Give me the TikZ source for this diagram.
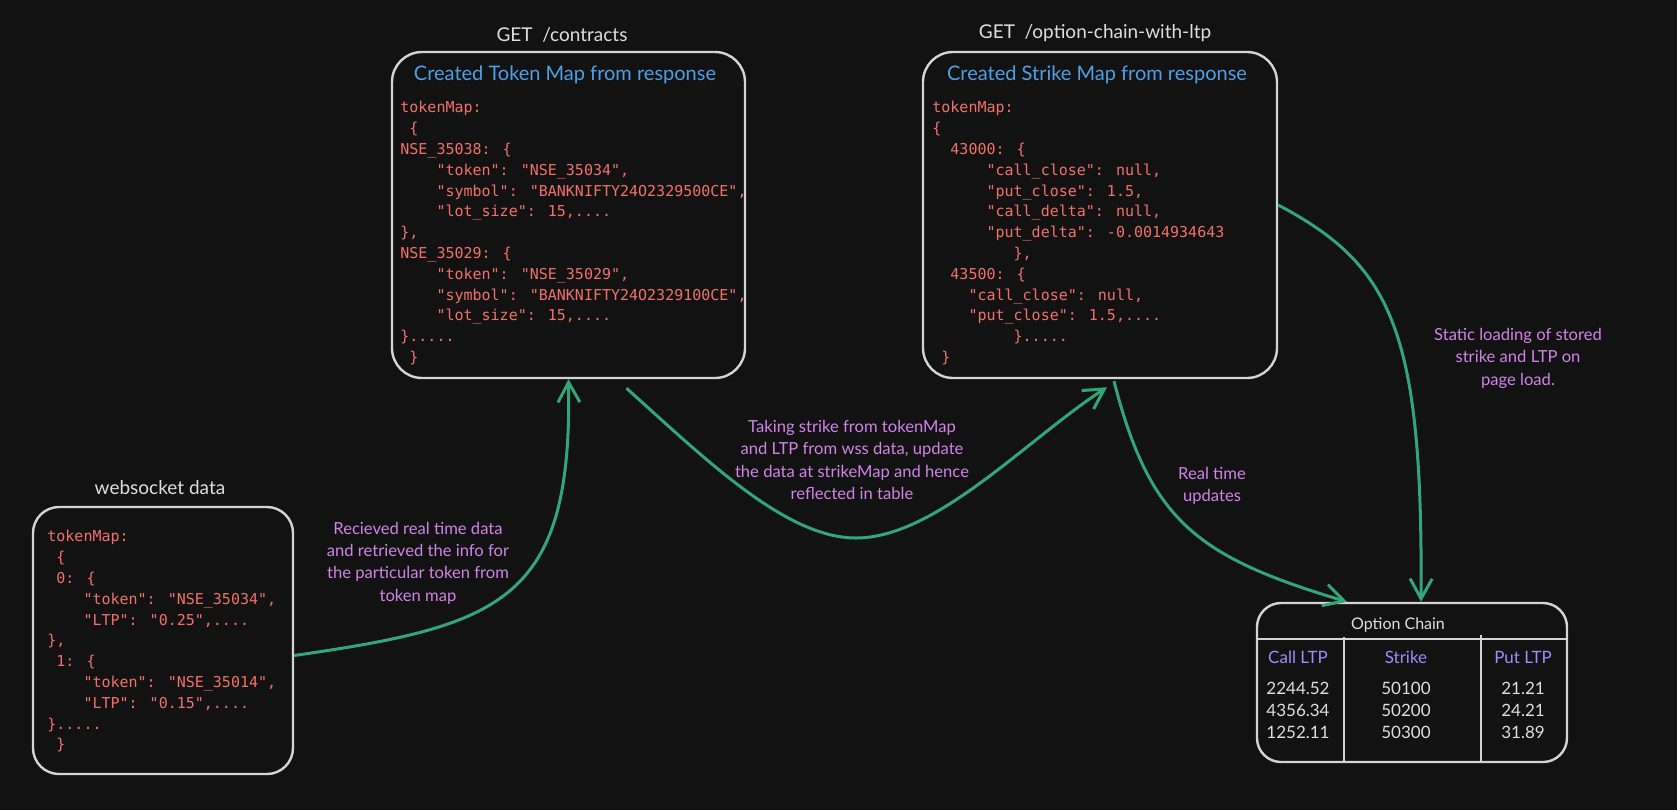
\documentclass[tikz,border=0pt]{standalone}
\usepackage{fontspec}
\setmainfont{Lato}
\newfontfamily\codefont{DejaVu Sans Mono}
\usetikzlibrary{arrows.meta,positioning}
\definecolor{bgdark}{HTML}{121212}
\definecolor{boxline}{HTML}{D4D4D4}
\definecolor{headgray}{HTML}{DEDEDE}
\definecolor{titleblue}{HTML}{4DA0E6}
\definecolor{codered}{HTML}{F2706A}
\definecolor{notepurple}{HTML}{D083E8}
\definecolor{colpurple}{HTML}{A08CFA}
\definecolor{flowgreen}{HTML}{32A57D}
\newcommand{\ind}[1]{\hspace*{#1\dimexpr0.602em\relax}}
\tikzset{map box/.style={draw=boxline,line width=1.2pt,rounded corners=15pt,inner sep=0pt},
         code text/.style={text=codered,font=\codefont\fontsize{7.5}{10.4}\selectfont,
                           align=left,anchor=north west,inner sep=0pt},
         head text/.style={text=headgray,font=\fontsize{9.5}{11}\selectfont},
         title text/.style={text=titleblue,font=\fontsize{10}{12}\selectfont},
         note text/.style={text=notepurple,font=\fontsize{8.3}{11.2}\selectfont,align=center},
         col head/.style={text=colpurple,font=\fontsize{8.5}{10}\selectfont,inner sep=0pt},
         col value/.style={text=headgray,font=\fontsize{8.5}{11}\selectfont,align=center,inner sep=0pt},
         flow arrow/.style={draw=flowgreen,line width=1.5pt,
                            -{Straight Barb[length=10pt,width=11pt]}}}

\begin{document}
\begin{tikzpicture}[x=0.5pt,y=-0.5pt]

\fill[bgdark] (0,0) rectangle (1677,810);

% GET /contracts
\node[map box,minimum width=176.5pt,minimum height=163pt] (tokbox) at (568.5,215) {};
\node[head text] (tokget) at (562,35) {GET~~/contracts};
\node[title text] (tokhead) at (565,75) {Created Token Map from response};
\node[code text] (tokcode) at (400,101)
    {tokenMap:\\
     \ind{1}\{\\
     NSE\_35038: \{\\
     \ind{4}"token": "NSE\_35034",\\
     \ind{4}"symbol": "BANKNIFTY24O2329500CE",\\
     \ind{4}"lot\_size": 15,....\\
     \},\\
     NSE\_35029: \{\\
     \ind{4}"token": "NSE\_35029",\\
     \ind{4}"symbol": "BANKNIFTY24O2329100CE",\\
     \ind{4}"lot\_size": 15,....\\
     \}.....\\
     \ind{1}\}};

% GET /option-chain-with-ltp
\node[map box,minimum width=177pt,minimum height=163pt] (strikebox) at (1100,215) {};
\node[head text] (strikeget) at (1095,33) {GET~~/option-chain-with-ltp};
\node[title text] (strikehead) at (1097,75) {Created Strike Map from response};
\node[code text] (strikecode) at (932,101)
    {tokenMap:\\
     \{\\
     \ind{2}43000: \{\\
     \ind{6}"call\_close": null,\\
     \ind{6}"put\_close": 1.5,\\
     \ind{6}"call\_delta": null,\\
     \ind{6}"put\_delta": -0.0014934643\\
     \ind{9}\},\\
     \ind{2}43500: \{\\
     \ind{4}"call\_close": null,\\
     \ind{4}"put\_close": 1.5,....\\
     \ind{9}\}.....\\
     \ind{1}\}};

% websocket
\node[map box,rounded corners=13pt,minimum width=130pt,minimum height=133.5pt] (wsbox) at (163,640.5) {};
\node[head text] (wsget) at (160,488) {websocket data};
\node[code text] (wscode) at (47,530)
    {tokenMap:\\
     \ind{1}\{\\
     \ind{1}0: \{\\
     \ind{4}"token": "NSE\_35034",\\
     \ind{4}"LTP": "0.25",....\\
     \},\\
     \ind{1}1: \{\\
     \ind{4}"token": "NSE\_35014",\\
     \ind{4}"LTP": "0.15",....\\
     \}.....\\
     \ind{1}\}};

% option chain table
\node[map box,rounded corners=12pt,minimum width=155pt,minimum height=79.5pt] (chainbox) at (1412,682.5) {};
\node[text=headgray,font=\fontsize{8}{10}\selectfont] (chainhead) at (1398,625) {Option Chain};
\draw[draw=boxline,line width=1.2pt] (1258,639) -- (1566,639);
\draw[draw=boxline,line width=1.2pt] (1344,637) -- (1344,761);
\draw[draw=boxline,line width=1.2pt] (1481,635) -- (1481,761);

\node[col head] (callhd) at (1298,657) {Call LTP};
\node[col head] (strikehd) at (1406,657) {Strike};
\node[col head] (puthd) at (1523,657) {Put LTP};
\node[col value,below=9pt of callhd] (callval) {2244.52\\4356.34\\1252.11};
\node[col value,below=9pt of strikehd] (strikeval) {50100\\50200\\50300};
\node[col value,below=9pt of puthd] (putval) {21.21\\24.21\\31.89};

% notes
\node[note text] (recvlbl) at (418,563) {Recieved real time data\\and retrieved the info for\\the particular token from\\token map};
\node[note text] (updlbl) at (852,460) {Taking strike from tokenMap\\and LTP from wss data, update\\the data at strikeMap and hence\\reflected in table};
\node[note text] (rtlbl) at (1212,486) {Real time\\updates};
\node[note text] (staticlbl) at (1518,358) {Static loading of stored\\strike and LTP on\\page load.};

\coordinate (dip) at (856,538);

\draw[flow arrow] ([yshift=-7.5pt]wsbox.east) .. controls +(208,-30) and +(4,222) .. (tokbox.south);
\draw[flow arrow] ([xshift=29pt,yshift=-4.5pt]tokbox.south) .. controls +(80,72) and +(-70,0) .. (dip)
    .. controls +(80,0) and +(-80,52) .. ([xshift=3.5pt,yshift=-4pt]strikebox.south);
\draw[flow arrow] ([xshift=7pt,yshift=-1pt]strikebox.south) .. controls +(36,140) and +(-150,-45) .. ([xshift=-32.5pt]chainbox.north);
\draw[flow arrow] ([yshift=5pt]strikebox.east) .. controls +(113,60) and +(2,-273) .. ([xshift=4.5pt]chainbox.north);

\end{tikzpicture}
\end{document}
